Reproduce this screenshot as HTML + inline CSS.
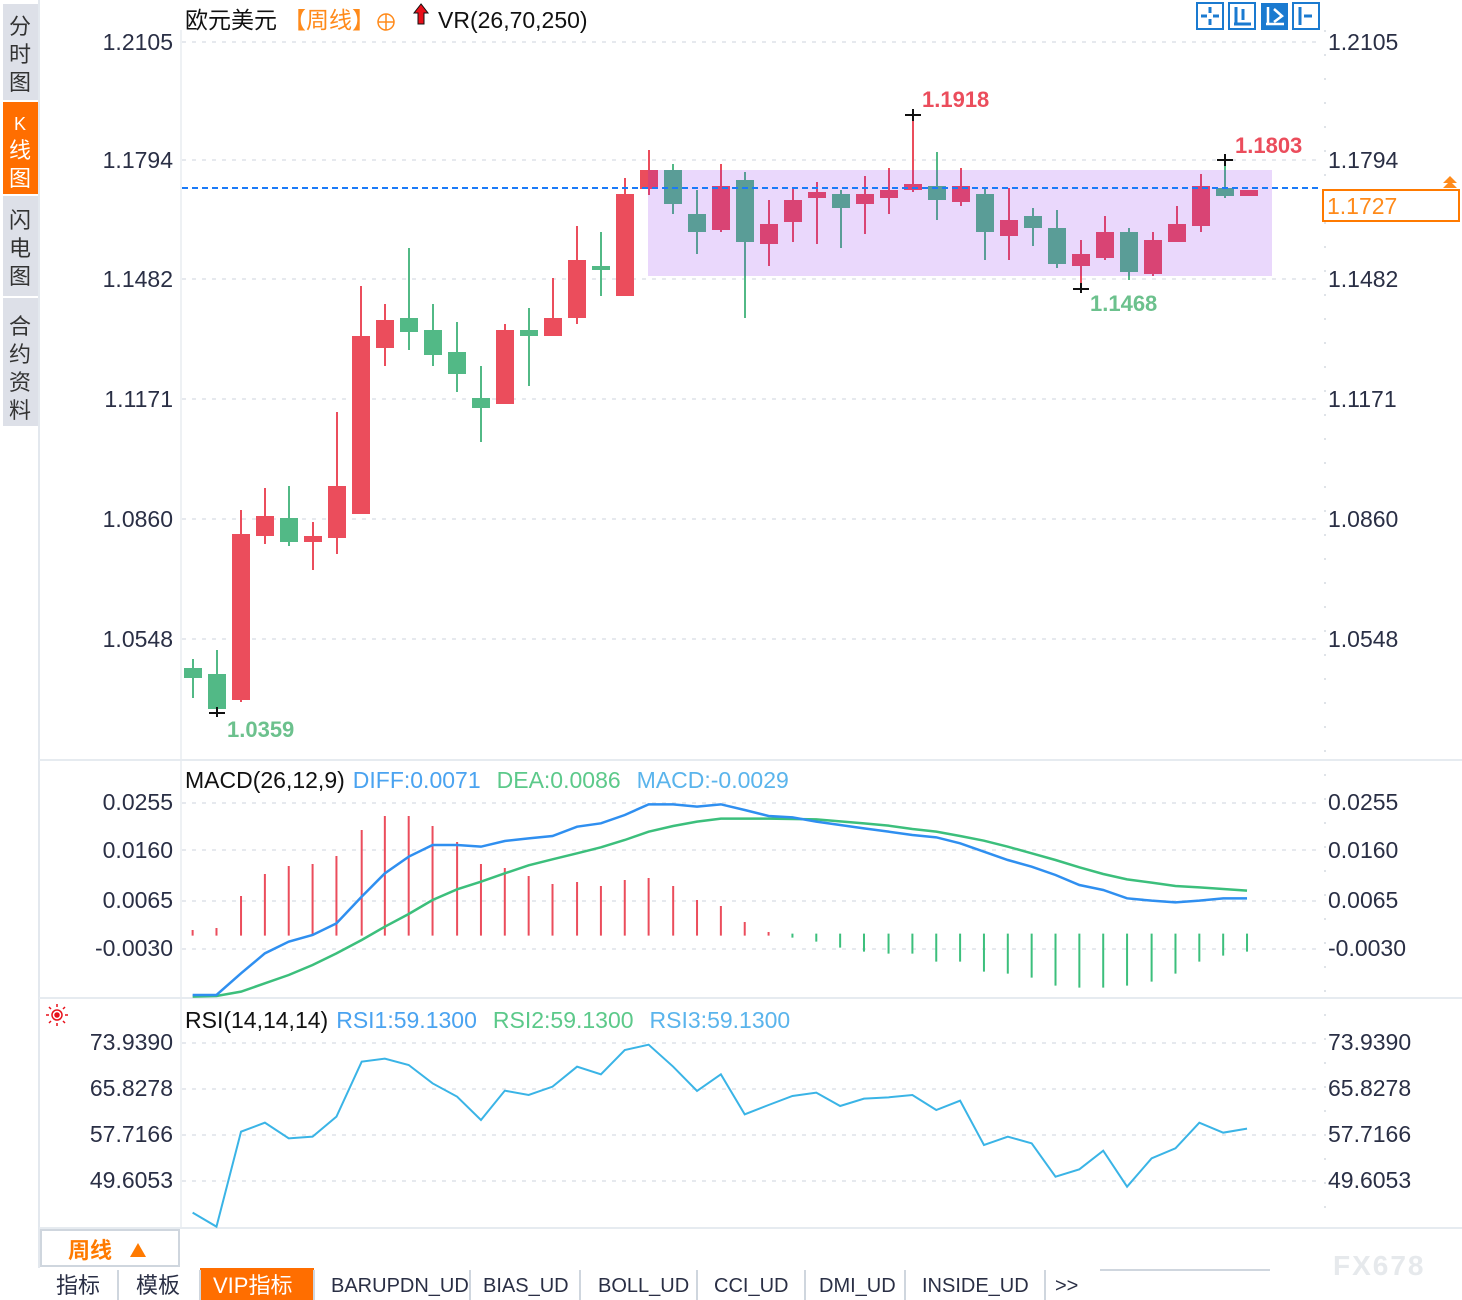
<!DOCTYPE html>
<html><head><meta charset="utf-8">
<style>
html,body{margin:0;padding:0;background:#fff;}
svg{display:block;}
text{font-family:"Liberation Sans","Noto Sans CJK SC",sans-serif;}
.ax{font-size:23px;fill:#2a2f45;}
.tab{font-family:"Liberation Mono","Noto Sans CJK SC",monospace;font-size:20px;fill:#2a2f45;}
</style></head>
<body>
<svg width="1462" height="1300" viewBox="0 0 1462 1300" xmlns="http://www.w3.org/2000/svg">
<rect width="1462" height="1300" fill="#fff"/>
<!-- sidebar -->
<rect x="3" y="4" width="35" height="96" fill="#dde0e8"/>
<rect x="3" y="102" width="35" height="92" fill="#ff6e00"/>
<rect x="3" y="196" width="35" height="100" fill="#dde0e8"/>
<rect x="3" y="298" width="35" height="128" fill="#dde0e8"/>
<g font-size="22" fill="#333" text-anchor="middle">
<text x="20" y="34">分</text><text x="20" y="62">时</text><text x="20" y="90">图</text>
<text x="20" y="130" fill="#fff" font-size="18">K</text><text x="20" y="158" fill="#fff">线</text><text x="20" y="186" fill="#fff">图</text>
<text x="20" y="228">闪</text><text x="20" y="256">电</text><text x="20" y="284">图</text>
<text x="20" y="334">合</text><text x="20" y="362">约</text><text x="20" y="390">资</text><text x="20" y="418">料</text>
</g>
<line x1="39" y1="0" x2="39" y2="1268" stroke="#e3e8ee" stroke-width="2"/>
<line x1="181" y1="30" x2="181" y2="1228" stroke="#eef1f4" stroke-width="2"/>
<line x1="1325" y1="30" x2="1325" y2="1228" stroke="#dfe3e8" stroke-width="2" stroke-dasharray="2,22"/>

<!-- grid main -->
<g stroke="#e6e9ee" stroke-width="2" stroke-dasharray="4,6">
<line x1="182" y1="42" x2="1320" y2="42"/><line x1="182" y1="160" x2="1320" y2="160"/>
<line x1="182" y1="279" x2="1320" y2="279"/><line x1="182" y1="399" x2="1320" y2="399"/>
<line x1="182" y1="519" x2="1320" y2="519"/><line x1="182" y1="639" x2="1320" y2="639"/>
<line x1="182" y1="803" x2="1320" y2="803"/><line x1="182" y1="850" x2="1320" y2="850"/>
<line x1="182" y1="901" x2="1320" y2="901"/><line x1="182" y1="949" x2="1320" y2="949"/>
<line x1="182" y1="1043" x2="1320" y2="1043"/><line x1="182" y1="1089" x2="1320" y2="1089"/>
<line x1="182" y1="1135" x2="1320" y2="1135"/><line x1="182" y1="1181" x2="1320" y2="1181"/>
</g>
<g stroke="#e6ebf0" stroke-width="2">
<line x1="39" y1="760" x2="1462" y2="760"/><line x1="39" y1="998" x2="1462" y2="998"/><line x1="39" y1="1228" x2="1462" y2="1228"/>
</g>

<g class="ax" text-anchor="end">
<text x="173" y="50">1.2105</text><text x="173" y="168">1.1794</text><text x="173" y="287">1.1482</text>
<text x="173" y="407">1.1171</text><text x="173" y="527">1.0860</text><text x="173" y="647">1.0548</text>
<text x="173" y="810">0.0255</text><text x="173" y="858">0.0160</text><text x="173" y="908">0.0065</text><text x="173" y="956">-0.0030</text>
<text x="173" y="1050">73.9390</text><text x="173" y="1096">65.8278</text><text x="173" y="1142">57.7166</text><text x="173" y="1188">49.6053</text>
</g>
<g class="ax">
<text x="1328" y="50">1.2105</text><text x="1328" y="168">1.1794</text><text x="1328" y="287">1.1482</text>
<text x="1328" y="407">1.1171</text><text x="1328" y="527">1.0860</text><text x="1328" y="647">1.0548</text>
<text x="1328" y="810">0.0255</text><text x="1328" y="858">0.0160</text><text x="1328" y="908">0.0065</text><text x="1328" y="956">-0.0030</text>
<text x="1328" y="1050">73.9390</text><text x="1328" y="1096">65.8278</text><text x="1328" y="1142">57.7166</text><text x="1328" y="1188">49.6053</text>
</g>

<!-- header -->
<text x="185" y="28" font-size="23" fill="#111">欧元美元</text>
<text x="283" y="28" font-size="23" fill="#ff8a1a">【周线】</text>
<circle cx="386" cy="22" r="8" fill="none" stroke="#ff8a1a" stroke-width="1.5"/>
<line x1="378" y1="22" x2="394" y2="22" stroke="#ff8a1a" stroke-width="1.5"/>
<line x1="386" y1="14" x2="386" y2="30" stroke="#ff8a1a" stroke-width="1.5"/>
<path d="M421 4 L414 13 L418 13 L418 24 L424 24 L424 13 L428 13 Z" fill="#e8101a" stroke="#111" stroke-width="1"/>
<text x="438" y="28" font-size="23" fill="#111">VR(26,70,250)</text>

<!-- top right icons -->
<g fill="none" stroke="#1a7ad0" stroke-width="2">
<rect x="1197" y="3" width="26" height="26"/><rect x="1229" y="3" width="26" height="26"/>
<rect x="1293" y="3" width="26" height="26"/>
</g>
<rect x="1261" y="3" width="27" height="27" fill="#1a7ad0"/>
<g stroke="#1a7ad0" stroke-width="3">
<line x1="1210" y1="7" x2="1210" y2="13"/><line x1="1210" y1="19" x2="1210" y2="25"/>
<line x1="1201" y1="16" x2="1207" y2="16"/><line x1="1213" y1="16" x2="1219" y2="16"/>
<line x1="1236" y1="7" x2="1236" y2="25"/><line x1="1234" y1="24" x2="1251" y2="24"/><line x1="1243" y1="9" x2="1243" y2="20"/>
<line x1="1300" y1="7" x2="1300" y2="25"/><line x1="1304" y1="16" x2="1312" y2="16"/>
</g>
<g stroke="#fff" stroke-width="2.5"><line x1="1268" y1="7" x2="1268" y2="25"/><line x1="1266" y1="24" x2="1284" y2="24"/><path d="M1274 9 L1282 16 L1274 22" fill="none"/></g>

<!-- candles -->
<g stroke-width="2">
<g stroke="#52b986" fill="#52b986">
<line x1="193" y1="659" x2="193" y2="698"/><rect x="184" y="668" width="18" height="10" stroke="none"/>
<line x1="217" y1="650" x2="217" y2="709"/><rect x="208" y="674" width="18" height="35" stroke="none"/>
<line x1="289" y1="486" x2="289" y2="546"/><rect x="280" y="518" width="18" height="24" stroke="none"/>
<line x1="409" y1="248" x2="409" y2="350"/><rect x="400" y="318" width="18" height="14" stroke="none"/>
<line x1="433" y1="304" x2="433" y2="366"/><rect x="424" y="330" width="18" height="25" stroke="none"/>
<line x1="457" y1="322" x2="457" y2="392"/><rect x="448" y="352" width="18" height="22" stroke="none"/>
<line x1="481" y1="366" x2="481" y2="442"/><rect x="472" y="398" width="18" height="10" stroke="none"/>
<line x1="529" y1="308" x2="529" y2="386"/><rect x="520" y="330" width="18" height="6" stroke="none"/>
<line x1="601" y1="232" x2="601" y2="296"/><rect x="592" y="266" width="18" height="4" stroke="none"/>
<line x1="673" y1="164" x2="673" y2="214"/><rect x="664" y="170" width="18" height="34" stroke="none"/>
<line x1="697" y1="190" x2="697" y2="254"/><rect x="688" y="214" width="18" height="18" stroke="none"/>
<line x1="745" y1="172" x2="745" y2="318"/><rect x="736" y="180" width="18" height="62" stroke="none"/>
<line x1="841" y1="190" x2="841" y2="248"/><rect x="832" y="194" width="18" height="14" stroke="none"/>
<line x1="937" y1="152" x2="937" y2="220"/><rect x="928" y="186" width="18" height="14" stroke="none"/>
<line x1="985" y1="188" x2="985" y2="260"/><rect x="976" y="194" width="18" height="38" stroke="none"/>
<line x1="1033" y1="208" x2="1033" y2="246"/><rect x="1024" y="216" width="18" height="12" stroke="none"/>
<line x1="1057" y1="210" x2="1057" y2="268"/><rect x="1048" y="228" width="18" height="36" stroke="none"/>
<line x1="1129" y1="228" x2="1129" y2="280"/><rect x="1120" y="232" width="18" height="40" stroke="none"/>
<line x1="1225" y1="160" x2="1225" y2="198"/><rect x="1216" y="188" width="18" height="8" stroke="none"/>
</g>
<g stroke="#eb4d5c" fill="#eb4d5c">
<line x1="241" y1="510" x2="241" y2="702"/><rect x="232" y="534" width="18" height="166" stroke="none"/>
<line x1="265" y1="488" x2="265" y2="544"/><rect x="256" y="516" width="18" height="20" stroke="none"/>
<line x1="313" y1="522" x2="313" y2="570"/><rect x="304" y="536" width="18" height="6" stroke="none"/>
<line x1="337" y1="412" x2="337" y2="554"/><rect x="328" y="486" width="18" height="52" stroke="none"/>
<line x1="361" y1="286" x2="361" y2="514"/><rect x="352" y="336" width="18" height="178" stroke="none"/>
<line x1="385" y1="304" x2="385" y2="366"/><rect x="376" y="320" width="18" height="28" stroke="none"/>
<line x1="505" y1="324" x2="505" y2="404"/><rect x="496" y="330" width="18" height="74" stroke="none"/>
<line x1="553" y1="278" x2="553" y2="336"/><rect x="544" y="318" width="18" height="18" stroke="none"/>
<line x1="577" y1="226" x2="577" y2="324"/><rect x="568" y="260" width="18" height="58" stroke="none"/>
<line x1="625" y1="178" x2="625" y2="296"/><rect x="616" y="194" width="18" height="102" stroke="none"/>
<line x1="649" y1="150" x2="649" y2="195"/><rect x="640" y="170" width="18" height="19" stroke="none"/>
<line x1="721" y1="164" x2="721" y2="232"/><rect x="712" y="186" width="18" height="44" stroke="none"/>
<line x1="769" y1="200" x2="769" y2="266"/><rect x="760" y="224" width="18" height="20" stroke="none"/>
<line x1="793" y1="188" x2="793" y2="242"/><rect x="784" y="200" width="18" height="22" stroke="none"/>
<line x1="817" y1="182" x2="817" y2="244"/><rect x="808" y="192" width="18" height="6" stroke="none"/>
<line x1="865" y1="176" x2="865" y2="234"/><rect x="856" y="194" width="18" height="10" stroke="none"/>
<line x1="889" y1="168" x2="889" y2="214"/><rect x="880" y="190" width="18" height="8" stroke="none"/>
<line x1="913" y1="115" x2="913" y2="192"/><rect x="904" y="184" width="18" height="6" stroke="none"/>
<line x1="961" y1="168" x2="961" y2="206"/><rect x="952" y="186" width="18" height="16" stroke="none"/>
<line x1="1009" y1="188" x2="1009" y2="260"/><rect x="1000" y="220" width="18" height="16" stroke="none"/>
<line x1="1081" y1="240" x2="1081" y2="289"/><rect x="1072" y="254" width="18" height="12" stroke="none"/>
<line x1="1105" y1="216" x2="1105" y2="260"/><rect x="1096" y="232" width="18" height="26" stroke="none"/>
<line x1="1153" y1="232" x2="1153" y2="276"/><rect x="1144" y="240" width="18" height="34" stroke="none"/>
<line x1="1177" y1="206" x2="1177" y2="242"/><rect x="1168" y="224" width="18" height="18" stroke="none"/>
<line x1="1201" y1="174" x2="1201" y2="232"/><rect x="1192" y="186" width="18" height="40" stroke="none"/>
<rect x="1240" y="190" width="18" height="6" stroke="none"/>
</g>
</g>
<rect x="648" y="170" width="624" height="106" fill="rgba(130,23,237,0.17)"/>
<line x1="182" y1="188" x2="1320" y2="188" stroke="#1a7af8" stroke-width="2" stroke-dasharray="6,4"/>

<g stroke="#111" stroke-width="2">
<line x1="209" y1="713" x2="225" y2="713"/><line x1="217" y1="707" x2="217" y2="717"/>
<line x1="905" y1="115" x2="921" y2="115"/><line x1="913" y1="109" x2="913" y2="121"/>
<line x1="1073" y1="289" x2="1089" y2="289"/><line x1="1081" y1="283" x2="1081" y2="293"/>
<line x1="1217" y1="160" x2="1233" y2="160"/><line x1="1225" y1="154" x2="1225" y2="166"/>
</g>
<g font-size="22" font-weight="bold">
<text x="227" y="737" fill="#6cc18d">1.0359</text>
<text x="922" y="107" fill="#eb4d5c">1.1918</text>
<text x="1090" y="311" fill="#6cc18d">1.1468</text>
<text x="1235" y="153" fill="#eb4d5c">1.1803</text>
</g>
<rect x="1323" y="190" width="136" height="31" fill="#fff" stroke="#ff7a00" stroke-width="2"/>
<text x="1327" y="214" font-size="23" fill="#ff8a1a">1.1727</text>
<path d="M1450 176 L1457 183 L1443 183 Z M1450 181 L1457 188 L1443 188 Z" fill="#ff8a1a"/>

<!-- MACD -->
<text x="185" y="788" font-size="23"><tspan fill="#111">MACD(26,12,9)</tspan><tspan fill="#4aa3f0" dx="8">DIFF:0.0071</tspan><tspan fill="#5cc98a" dx="16">DEA:0.0086</tspan><tspan fill="#5ab4ec" dx="16">MACD:-0.0029</tspan></text>
<g transform="translate(180,760) scale(0.70153,0.33333)">
<path vector-effect="non-scaling-stroke" stroke="#eb4d5c" stroke-width="2" d="M18 527V510M52 527V504M87 527V408M121 527V342M155 527V318M189 527V312M223 527V288M259 527V210M292 527V168M326 527V168M360 527V198M395 527V246M429 527V312M463 527V324M497 527V348M531 527V372M566 527V366M600 527V378M634 527V360M668 527V354M703 527V378M737 527V420M771 527V438M805 527V486M839 527V516"/>
<path vector-effect="non-scaling-stroke" stroke="#3cbf7c" stroke-width="2" d="M873 521V533M907 521V545M941 521V563M975 521V575M1010 521V581M1044 521V581M1078 521V605M1112 521V605M1146 521V635M1180 521V641M1214 521V653M1248 521V677M1282 521V683M1316 521V683M1350 521V677M1385 521V665M1419 521V641M1453 521V605M1487 521V587M1521 521V575"/>
<polyline vector-effect="non-scaling-stroke" fill="none" stroke="#3cbf7c" stroke-width="2.5" points="18,710 52,708 87,695 121,670 155,645 189,615 223,580 259,540 292,500 326,462 360,420 395,388 429,365 463,340 497,316 531,298 566,280 600,262 634,240 668,215 703,198 737,185 771,176 805,176 839,176 873,177 907,178 941,184 975,190 1010,197 1044,207 1078,215 1112,228 1146,242 1180,260 1214,280 1248,300 1282,322 1316,342 1350,358 1385,368 1419,378 1453,382 1487,387 1521,392"/>
<polyline vector-effect="non-scaling-stroke" fill="none" stroke="#2f8ff0" stroke-width="2.5" points="18,705 52,705 87,640 121,580 155,545 189,525 223,490 259,410 292,340 326,290 360,255 395,255 429,260 463,243 497,235 531,228 566,200 600,190 634,165 668,133 703,133 737,140 771,133 805,150 839,168 873,172 907,185 941,195 975,205 1010,215 1044,225 1078,232 1112,250 1146,275 1180,300 1214,320 1248,345 1282,375 1316,390 1350,415 1385,422 1419,427 1453,422 1487,415 1521,415"/>
</g>

<!-- RSI -->
<g transform="translate(57,1015)" stroke="#e8101a" stroke-width="1.5" fill="none">
<circle r="5"/><circle r="2" fill="#e8101a"/>
<path d="M0 -11V-8M0 8V11M-11 0H-8M8 0H11M-8 -8L-6 -6M6 6L8 8M-8 8L-6 6M6 -6L8 -8"/>
</g>
<text x="185" y="1028" font-size="23"><tspan fill="#111">RSI(14,14,14)</tspan><tspan fill="#4aa3f0" dx="8">RSI1:59.1300</tspan><tspan fill="#5cc98a" dx="16">RSI2:59.1300</tspan><tspan fill="#5ab4ec" dx="16">RSI3:59.1300</tspan></text>
<g transform="translate(180,1030) scale(0.70153,0.33333)">
<polyline vector-effect="non-scaling-stroke" fill="none" stroke="#3ab4e6" stroke-width="2" points="18,548 52,590 87,305 121,278 155,325 189,320 223,260 259,95 292,86 326,105 360,160 395,200 429,270 463,182 497,195 531,170 566,110 600,133 634,60 668,44 703,110 737,183 771,133 805,253 839,225 873,198 907,188 941,228 975,206 1010,202 1044,195 1078,240 1112,212 1146,345 1180,320 1214,340 1248,440 1282,418 1316,362 1350,470 1385,385 1419,355 1453,278 1487,308 1521,296"/>
</g>

<!-- bottom -->
<rect x="41" y="1230" width="138" height="36" fill="#fff" stroke="#cfd6de" stroke-width="2"/>
<text x="68" y="1258" font-size="22" font-weight="bold" fill="#ff7a00">周线</text>
<path d="M130 1257 L138 1243 L146 1257 Z" fill="#ff7a00"/>
<rect x="39" y="1268" width="1423" height="32" fill="#fff"/>
<rect x="200" y="1268" width="114" height="32" fill="#ff6e00"/>
<g stroke="#cfd6de" stroke-width="2">
<line x1="118" y1="1270" x2="118" y2="1300"/><line x1="200" y1="1270" x2="200" y2="1300"/><line x1="314" y1="1270" x2="314" y2="1300"/>
<line x1="470" y1="1270" x2="470" y2="1300"/><line x1="580" y1="1270" x2="580" y2="1300"/><line x1="697" y1="1270" x2="697" y2="1300"/>
<line x1="805" y1="1270" x2="805" y2="1300"/><line x1="905" y1="1270" x2="905" y2="1300"/><line x1="1045" y1="1270" x2="1045" y2="1300"/>
<line x1="1100" y1="1270" x2="1270" y2="1270"/>
</g>
<g class="tab">
<text x="56" y="1293" font-size="22">指标</text><text x="136" y="1293" font-size="22">模板</text>
<text x="213" y="1293" font-size="22" fill="#fff">VIP指标</text>
<text x="331" y="1292">BARUPDN_UD</text><text x="483" y="1292">BIAS_UD</text><text x="598" y="1292">BOLL_UD</text>
<text x="714" y="1292">CCI_UD</text><text x="819" y="1292">DMI_UD</text><text x="922" y="1292">INSIDE_UD</text>
<text x="1055" y="1292">&gt;&gt;</text>
</g>
<text x="1333" y="1275" font-size="28" font-weight="bold" fill="#e6e9ec" letter-spacing="2">FX678</text>
</svg>
</body></html>
